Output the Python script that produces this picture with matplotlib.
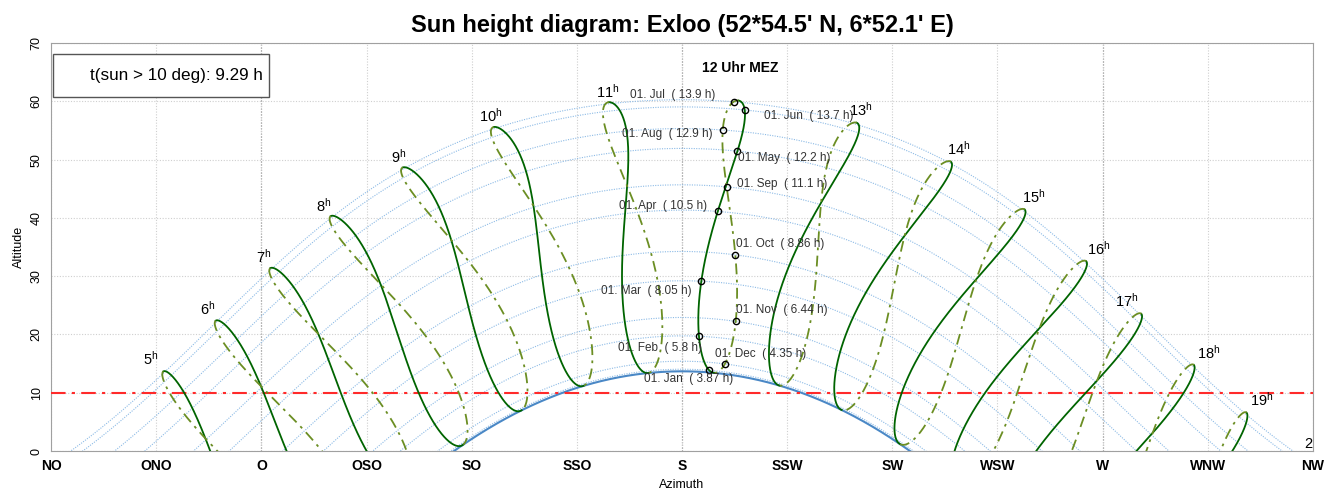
import numpy as np
import matplotlib
matplotlib.use("Agg")
import matplotlib.pyplot as plt
from matplotlib.patches import Rectangle

# ---------------- data ----------------
TITLE = "Sun height diagram: Exloo (52*54.5' N, 6*52.1' E)"
LAT_DEG = 52 + 54.5 / 60          # 52*54.5' N
LON_DEG = 6 + 52.1 / 60           # 6*52.1' E
HOURS = list(range(5, 21))        # hour analemmas (clock hours)
NOON_HOUR = 12
MONTHS = ["Jan", "Feb", "Mar", "Apr", "May", "Jun",
          "Jul", "Aug", "Sep", "Oct", "Nov", "Dec"]
MONTH_DOY = [1, 32, 60, 91, 121, 152, 182, 213, 244, 274, 305, 335]
HOURS_ABOVE_10 = ["3.87", "5.8", "8.05", "10.5", "12.2", "13.7",
                  "13.9", "12.9", "11.1", "8.86", "6.44", "4.35"]
WINTER_SOLSTICE_DOY = 355
SUMMER_SOLSTICE_DOY = 172
X_TICKS = [45, 67.5, 90, 112.5, 135, 157.5, 180, 202.5, 225, 247.5, 270, 292.5, 315]
X_LABELS = ["NO", "ONO", "O", "OSO", "SO", "SSO", "S", "SSW", "SW", "WSW", "W", "WNW", "NW"]
Y_TICKS = [0, 10, 20, 30, 40, 50, 60, 70]
CARDINAL_AZ = [90, 180, 270]
THRESHOLD_DEG = 10
BOX_TEXT = "t(sun > 10 deg): 9.29 h"
NOON_TEXT = "12 Uhr MEZ"

# ---------------- layout / style ----------------
# label offsets (pixels) for the date labels at the noon analemma
LABEL_OFFSETS = [(-65, -9, "left"), (3, -12, "right"), (-10, -10, "right"),
                 (-11, 5, "right"), (1, -7, "left"), (19, -6, "left"),
                 (-18, 7, "right"), (-10, -4, "right"), (10, 3, "left"),
                 (1, 11, "left"), (0, 11, "left"), (-10, 10, "left")]
# hour label offsets (pixels) from the top of each analemma
HOUR_LABEL_OFFSETS = {5: (-14, 12), 6: (-9, 12), 7: (-8, 11), 8: (-9, 10),
                      9: (-6, 10), 10: (-4, 11), 11: (-2, 10), 13: (6, 13),
                      14: (10, 12), 15: (11, 12), 16: (14, 12), 17: (-13, 12),
                      18: (16, 12), 19: (16, 12), 20: (16, 12)}


def sun_pos(doy, ut_hours):
    g = 2 * np.pi / 365 * (doy - 1 + (ut_hours - 12) / 24)
    eot = 229.18 * (0.000075 + 0.001868 * np.cos(g) - 0.032077 * np.sin(g)
                    - 0.014615 * np.cos(2 * g) - 0.040849 * np.sin(2 * g))
    decl = (0.006918 - 0.399912 * np.cos(g) + 0.070257 * np.sin(g)
            - 0.006758 * np.cos(2 * g) + 0.000907 * np.sin(2 * g)
            - 0.002697 * np.cos(3 * g) + 0.00148 * np.sin(3 * g))
    tst = ut_hours * 60 + eot + 4 * LON_DEG
    H = np.radians(tst / 4 - 180)
    phi = np.radians(LAT_DEG)
    sin_alt = np.sin(phi) * np.sin(decl) + np.cos(phi) * np.cos(decl) * np.cos(H)
    alt = np.degrees(np.arcsin(np.clip(sin_alt, -1, 1)))
    az = np.degrees(np.arctan2(np.sin(H), np.cos(H) * np.sin(phi) - np.tan(decl) * np.cos(phi))) + 180
    return az, alt


plt.rcParams['font.family'] = ['Liberation Sans', 'DejaVu Sans']
plt.rcParams['mathtext.fontset'] = 'custom'
plt.rcParams['mathtext.rm'] = 'Liberation Sans'

fig = plt.figure(figsize=(13.3, 4.94), dpi=100)
ax = fig.add_axes([51 / 1330, 43 / 494, (1313 - 51) / 1330, (451 - 43) / 494])
ax.set_xlim(45, 315)
ax.set_ylim(0, 70)

# grid
ax.set_xticks(X_TICKS)
ax.set_xticklabels(X_LABELS, fontweight='bold', fontsize=10)
ax.set_yticks(Y_TICKS)
ax.set_yticklabels([str(v) for v in Y_TICKS], rotation=90, va='center', fontsize=9)
ax.tick_params(length=0, pad=6)
ax.grid(True, color='#cfcfcf', linestyle=(0, (1, 1.5)), linewidth=0.8)
for s in ax.spines.values():
    s.set_color('#a0a0a0')
for a in CARDINAL_AZ:
    ax.axvline(a, color='#444444', linestyle=(0, (1, 1.5)), linewidth=0.8, zorder=1)

# day arcs (first of every month)
t = np.linspace(0, 24, 2881)
for d in MONTH_DOY:
    az, alt = sun_pos(d, t)
    alt = np.where(alt < -3, np.nan, alt)
    ax.plot(az, alt, color='#8dbbe6', linestyle=(0, (1, 1.2)), linewidth=0.8, zorder=2)
az, alt = sun_pos(WINTER_SOLSTICE_DOY, t)
alt = np.where(alt < -3, np.nan, alt)
ax.plot(az, alt, color='#4a88c6', linewidth=1.5, zorder=3)

# threshold line
ax.axhline(THRESHOLD_DEG, color='#ff2a2a', linestyle=(0, (7, 3, 1.5, 3)), linewidth=1.5, zorder=4)

# hour analemmas
days_a = np.arange(WINTER_SOLSTICE_DOY - 365, SUMMER_SOLSTICE_DOY + 0.25, 0.25)
days_b = np.arange(SUMMER_SOLSTICE_DOY, WINTER_SOLSTICE_DOY + 0.25, 0.25)
for hh in HOURS:
    az1, alt1 = sun_pos(days_a, hh)
    az2, alt2 = sun_pos(days_b, hh)
    ax.plot(az1, alt1, color='#006400', linewidth=1.3, zorder=5)
    ax.plot(az2, alt2, color='#6b8e23', linewidth=1.3,
            linestyle=(0, (6, 3, 1.5, 3)), zorder=5)
    allaz = np.concatenate([az1, az2])
    allalt = np.concatenate([alt1, alt2])
    k = np.argmax(allalt)
    if hh != NOON_HOUR:
        dx, dy = HOUR_LABEL_OFFSETS[hh]
        ax.annotate(r"$\mathregular{%d^{h}}$" % hh, (allaz[k], allalt[k]),
                    xytext=(dx, dy), textcoords='offset pixels',
                    ha='center', va='center', fontsize=10.5, color='black',
                    annotation_clip=False, clip_on=True, zorder=7)

# noon analemma dots and labels
for m, d, v, (dx, dy, ha) in zip(MONTHS, MONTH_DOY, HOURS_ABOVE_10, LABEL_OFFSETS):
    az, alt = sun_pos(d, NOON_HOUR)
    ax.plot(az, alt, 'o', ms=4.5, mfc='none', mec='black', mew=1.0, zorder=8)
    ax.annotate(f"01. {m}  ( {v} h)", (az, alt), xytext=(dx, dy),
                textcoords='offset pixels', ha=ha, va='center',
                fontsize=8.5, color='#333333', zorder=8)

ax.text(192.4, 65.7, NOON_TEXT, ha='center', va='center', fontsize=10, fontweight='bold')

# info box
ax.add_patch(Rectangle((45.4, 60.7), 46.2, 7.4, facecolor='white',
                       edgecolor='#555555', linewidth=1.0, zorder=9))
ax.text(90.3, 64.4, BOX_TEXT, ha='right', va='center', fontsize=12.3, zorder=10)

ax.set_title(TITLE, fontsize=17, fontweight='bold', pad=8)
ax.set_xlabel("Azimuth", fontsize=9, labelpad=4)
ax.set_ylabel("Altitude", fontsize=9, labelpad=4)

fig.savefig("out.png", dpi=100)
